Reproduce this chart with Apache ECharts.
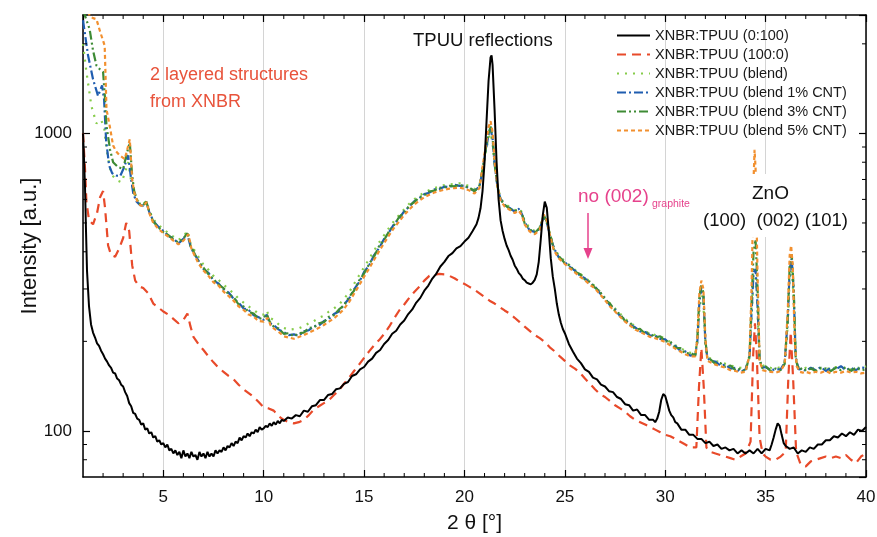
<!DOCTYPE html>
<html lang="en">
<head>
<meta charset="UTF-8">
<title>XRD XNBR:TPUU</title>
<script src="https://cdn.jsdelivr.net/npm/echarts@6/dist/echarts.min.js"></script>
<style>
  html, body { margin: 0; padding: 0; background: #fff; }
  #chart { width: 877px; height: 537px; }
</style>
</head>
<body>
<div id="chart"></div>
<script>
// ---------- data (2 theta [deg], intensity [a.u.]) ----------
var xMin = 1, xMax = 40, yMin = 70, yMax = 2500;

var names = ['XNBR:TPUU (0:100)', 'XNBR:TPUU (100:0)', 'XNBR:TPUU (blend)',
             'XNBR:TPUU (blend 1% CNT)', 'XNBR:TPUU (blend 3% CNT)', 'XNBR:TPUU (blend 5% CNT)'];

var tpuu = [[1.0,1000],[1.05,820],[1.1,660],[1.15,470],[1.2,345],[1.3,262],[1.4,228],[1.5,214],[1.6,206],[1.7,197],
  [1.8,193],[1.9,186],[2.0,181],[2.1,175],[2.2,171],[2.3,166],[2.4,163],[2.5,157],[2.6,156],[2.7,150],[2.8,148],
  [2.9,143],[3.0,141],[3.1,135],[3.2,131],[3.3,124],[3.4,121],[3.5,115],[3.6,114],[3.7,110],[3.8,109],[3.9,105],
  [4.0,106],[4.1,101],[4.2,102],[4.3,98],[4.4,99],[4.5,95],[4.6,96],[4.7,92],[4.8,93],[4.9,90],[5.0,91],[5.1,88],
  [5.2,90],[5.3,86],[5.4,87],[5.5,84],[5.6,86],[5.7,83],[5.8,85],[5.9,81],[6.0,86],[6.1,82],[6.2,84],[6.3,81],
  [6.4,85],[6.5,82],[6.6,83],[6.7,80],[6.8,85],[6.9,82],[7.0,84],[7.1,81],[7.2,85],[7.3,82],[7.4,84],[7.5,82],
  [7.6,86],[7.7,84],[7.8,86],[7.9,85],[8.0,88],[8.1,86],[8.2,89],[8.3,88],[8.4,91],[8.5,89],[8.6,92],[8.7,91],
  [8.8,95],[8.9,93],[9.0,96],[9.1,95],[9.2,98],[9.3,96],[9.4,99],[9.5,98],[9.6,101],[9.7,99],[9.8,103],[9.9,101],
  [10.0,102],[10.1,104],[10.2,103],[10.3,106],[10.4,104],[10.5,107],[10.6,105],[10.7,108],[10.8,106],[10.9,109],
  [11.0,108],[11.2,111],[11.4,110],[11.6,113],[11.8,112],[12.0,117],[12.2,116],[12.4,121],[12.6,122],[12.8,127],
  [13.0,127],[13.2,132],[13.4,133],[13.6,138],[13.8,139],[14.0,144],[14.2,146],[14.4,153],[14.6,155],[14.8,161],
  [15.0,164],[15.2,171],[15.4,175],[15.6,183],[15.8,187],[16.0,196],[16.2,202],[16.4,212],[16.6,217],[16.8,228],
  [17.0,235],[17.2,247],[17.4,256],[17.6,270],[17.8,280],[18.0,296],[18.2,308],[18.4,325],[18.6,338],[18.8,357],
  [19.0,370],[19.2,387],[19.4,396],[19.6,411],[19.8,418],[20.0,433],[20.2,446],[20.4,469],[20.6,495],[20.7,520],
  [20.8,560],[20.9,640],[21.0,800],[21.1,1100],[21.2,1500],[21.3,1800],[21.35,1830],[21.4,1700],[21.5,1200],
  [21.6,800],[21.7,600],[21.8,510],[21.9,470],[22.0,442],[22.1,420],[22.2,405],[22.3,388],[22.4,376],[22.5,360],
  [22.6,351],[22.7,340],[22.8,334],[22.9,325],[23.0,321],[23.1,315],[23.2,313],[23.3,311],[23.4,315],[23.5,322],
  [23.6,336],[23.7,370],[23.8,440],[23.9,530],[24.0,590],[24.1,562],[24.2,470],[24.3,380],[24.4,330],[24.5,300],
  [24.6,268],[24.7,246],[24.8,231],[24.9,220],[25.0,213],[25.2,196],[25.4,185],[25.6,175],[25.8,169],[26.0,161],
  [26.2,158],[26.4,151],[26.6,149],[26.8,143],[27.0,141],[27.2,136],[27.4,135],[27.6,130],[27.8,128],[28.0,123],
  [28.2,122],[28.4,117],[28.6,118],[28.8,113],[29.0,113],[29.2,109],[29.4,109],[29.5,107],[29.6,110],[29.7,116],
  [29.8,127],[29.9,133],[30.0,131],[30.1,124],[30.2,117],[30.3,113],[30.4,111],[30.5,107],[30.6,106],[30.8,101],
  [31.0,101],[31.2,97],[31.4,97],[31.6,94],[31.8,94],[32.0,91],[32.2,92],[32.4,89],[32.6,90],[32.8,87],[33.0,88],
  [33.2,86],[33.4,87],[33.6,84],[33.8,86],[34.0,84],[34.2,86],[34.4,84],[34.6,87],[34.8,84],[35.0,87],[35.2,86],
  [35.3,90],[35.4,95],[35.5,101],[35.6,106],[35.7,104],[35.8,97],[35.9,91],[36.0,89],[36.2,87],[36.4,88],[36.6,84],
  [36.8,86],[37.0,85],[37.2,88],[37.4,87],[37.6,90],[37.8,90],[38.0,93],[38.2,93],[38.4,96],[38.6,95],[38.8,98],
  [39.0,96],[39.2,99],[39.4,97],[39.6,101],[39.8,100],[40.0,103]];

var xnbr = [[1.0,1000],[1.1,760],[1.17,590],[1.3,510],[1.5,495],[1.7,540],[1.85,610],[2.0,640],[2.1,560],[2.25,420],
  [2.4,390],[2.6,385],[2.8,410],[3.0,445],[3.15,500],[3.3,470],[3.45,360],[3.6,320],[3.8,306],[4.0,302],[4.25,290],
  [4.5,268],[4.75,260],[5.0,252],[5.25,246],[5.5,238],[5.75,230],[6.0,236],[6.2,248],[6.35,225],[6.5,207],[6.75,196],
  [7.0,187],[7.25,178],[7.5,170],[7.75,163],[8.0,158],[8.25,153],[8.5,149],[8.75,143],[9.0,138],[9.25,134],[9.5,130],
  [9.75,125],[10.0,120],[10.25,119],[10.5,117],[10.75,112],[11.0,109],[11.25,107],[11.5,106],[11.75,107],[12.0,109],
  [12.25,113],[12.5,118],[12.75,121],[13.0,124],[13.25,127],[13.5,132],[13.75,137],[14.0,144],[14.25,151],[14.5,159],
  [14.75,167],[15.0,176],[15.25,185],[15.5,194],[15.75,202],[16.0,212],[16.25,224],[16.5,239],[16.75,254],[17.0,266],
  [17.25,280],[17.5,293],[17.75,305],[18.0,320],[18.25,332],[18.5,335],[18.75,337],[19.0,336],[19.25,332],[19.5,326],
  [19.75,318],[20.0,312],[20.25,305],[20.5,298],[20.75,290],[21.0,282],[21.25,274],[21.5,268],[21.75,261],[22.0,254],
  [22.25,248],[22.5,240],[22.75,232],[23.0,224],[23.25,217],[23.5,210],[23.75,205],[24.0,199],[24.25,191],[24.5,185],
  [24.75,178],[25.0,172],[25.25,166],[25.5,162],[25.75,157],[26.0,150],[26.25,144],[26.5,138],[26.75,133],[27.0,130],
  [27.25,126],[27.5,122],[27.75,119],[28.0,116],[28.25,112],[28.5,109],[28.75,107],[29.0,105],[29.25,103],[29.5,101],
  [29.75,99],[30.0,97],[30.25,96],[30.5,94],[30.75,92],[31.0,90],[31.25,88],[31.55,88],[31.68,140],[31.8,190],
  [31.92,140],[32.05,88],[32.25,85],[32.5,84],[32.75,83],[33.0,82],[33.25,81],[33.5,80],[33.75,82],[34.0,84],[34.25,92],
  [34.38,180],[34.47,230],[34.56,180],[34.7,95],[34.85,84],[35.0,82],[35.25,80],[35.5,80],[35.75,82],[36.0,85],
  [36.13,150],[36.25,215],[36.37,150],[36.52,85],[36.75,77],[37.0,76],[37.25,79],[37.5,80],[37.75,81],[38.0,82],
  [38.25,81],[38.5,82],[38.75,81],[39.0,83],[39.25,80],[39.5,78],[39.75,82],[40.0,84]];

var blend = [[1.0,2000],[1.17,1610],[1.42,1235],[1.67,1080],[1.9,1110],[2.05,1050],[2.17,885],[2.35,760],[2.5,718],
  [2.7,695],[2.92,685],[3.1,740],[3.25,801],[3.4,690],[3.5,640],[3.65,600],[3.85,585],[4.0,580],[4.15,592],[4.3,552],
  [4.5,515],[4.75,492],[5.0,478],[5.25,462],[5.5,450],[5.75,438],[6.0,450],[6.2,470],[6.35,428],[6.5,410],[6.75,385],
  [7.0,362],[7.25,348],[7.5,332],[7.75,322],[8.0,310],[8.25,300],[8.5,290],[8.75,278],[9.0,270],[9.25,262],[9.5,255],
  [9.75,248],[10.0,246],[10.15,254],[10.3,240],[10.5,236],[10.75,228],[11.0,222],[11.25,219],[11.5,220],[11.75,221],
  [12.0,225],[12.25,230],[12.5,234],[12.75,240],[13.0,244],[13.25,252],[13.5,258],[13.75,266],[14.0,278],[14.25,292],
  [14.5,312],[14.75,333],[15.0,355],[15.25,378],[15.5,404],[15.75,430],[16.0,455],[16.25,482],[16.5,508],[16.75,532],
  [17.0,556],[17.25,580],[17.5,600],[17.75,618],[18.0,632],[18.25,645],[18.5,655],[18.75,662],[19.0,670],[19.25,674],
  [19.5,676],[19.75,680],[20.0,674],[20.25,664],[20.5,650],[20.75,672],[20.9,760],[21.05,860],[21.2,960],[21.3,1000],
  [21.4,930],[21.5,780],[21.65,660],[21.8,606],[22.0,580],[22.25,566],[22.5,552],[22.7,560],[22.85,545],[23.0,508],
  [23.25,480],[23.5,470],[23.75,484],[23.95,520],[24.1,500],[24.25,462],[24.45,415],[24.7,388],[25.0,372],[25.25,360],
  [25.5,348],[25.75,338],[26.0,328],[26.25,318],[26.5,306],[26.75,294],[27.0,280],[27.25,268],[27.5,258],[27.75,248],
  [28.0,238],[28.25,231],[28.5,225],[28.75,220],[29.0,216],[29.25,213],[29.5,210],[29.75,208],[30.0,204],[30.25,199],
  [30.5,194],[30.75,190],[31.0,186],[31.25,183],[31.5,182],[31.6,198],[31.7,255],[31.8,285],[31.9,265],[32.0,196],
  [32.1,178],[32.25,175],[32.5,172],[32.75,170],[33.0,168],[33.25,166],[33.5,164],[33.75,163],[34.0,162],[34.2,176],
  [34.3,240],[34.4,330],[34.5,345],[34.6,250],[34.7,174],[34.85,166],[35.0,165],[35.25,163],[35.5,162],[35.75,164],
  [35.95,170],[36.1,225],[36.2,330],[36.3,360],[36.4,275],[36.5,176],[36.65,163],[36.85,161],[37.0,163],[37.25,161],
  [37.5,164],[37.75,162],[38.0,163],[38.25,161],[38.5,164],[38.75,162],[39.0,163],[39.25,161],[39.5,164],[39.75,162],
  [40.0,165]];

var cnt1 = [[1.0,2400],[1.25,1830],[1.5,1520],[1.75,1335],[1.95,1450],[2.05,1300],[2.15,950],[2.3,780],[2.45,735],
  [2.65,722],[2.85,718],[3.05,770],[3.25,843],[3.4,700],[3.5,630],[3.65,592],[3.85,574],[4.0,572],[4.15,588],[4.3,545],
  [4.5,508],[4.75,486],[5.0,470],[5.25,452],[5.5,444],[5.75,426],[6.0,442],[6.2,458],[6.35,418],[6.5,398],[6.75,374],
  [7.0,350],[7.25,340],[7.5,320],[7.75,313],[8.0,298],[8.25,292],[8.5,278],[8.75,270],[9.0,258],[9.25,255],[9.5,245],
  [9.75,241],[10.0,236],[10.15,246],[10.3,230],[10.5,227],[10.75,219],[11.0,215],[11.25,210],[11.5,211],[11.75,209],
  [12.0,216],[12.25,218],[12.5,225],[12.75,226],[13.0,234],[13.25,238],[13.5,247],[13.75,252],[14.0,266],[14.25,278],
  [14.5,299],[14.75,316],[15.0,342],[15.25,360],[15.5,390],[15.75,412],[16.0,442],[16.25,466],[16.5,497],[16.75,518],
  [17.0,548],[17.25,566],[17.5,592],[17.75,604],[18.0,625],[18.25,632],[18.5,648],[18.75,650],[19.0,662],[19.25,660],
  [19.5,672],[19.75,666],[20.0,668],[20.25,652],[20.5,642],[20.75,662],[20.9,750],[21.05,870],[21.2,990],[21.3,1040],
  [21.4,960],[21.5,790],[21.65,655],[21.8,602],[22.0,574],[22.25,562],[22.5,546],[22.7,558],[22.85,538],[23.0,502],
  [23.25,472],[23.5,466],[23.75,478],[23.95,526],[24.1,502],[24.25,458],[24.45,412],[24.7,383],[25.0,369],[25.25,356],
  [25.5,346],[25.75,333],[26.0,326],[26.25,313],[26.5,306],[26.75,290],[27.0,279],[27.25,264],[27.5,256],[27.75,243],
  [28.0,237],[28.25,227],[28.5,223],[28.75,216],[29.0,215],[29.25,209],[29.5,209],[29.75,204],[30.0,203],[30.25,196],
  [30.5,193],[30.75,186],[31.0,185],[31.25,179],[31.5,181],[31.6,200],[31.7,270],[31.8,305],[31.9,285],[32.0,198],
  [32.1,176],[32.25,172],[32.5,171],[32.75,166],[33.0,167],[33.25,162],[33.5,163],[33.75,158],[34.0,161],[34.2,178],
  [34.3,250],[34.4,340],[34.5,350],[34.6,260],[34.7,172],[34.85,163],[35.0,164],[35.25,160],[35.5,161],[35.75,161],
  [35.95,170],[36.1,235],[36.2,350],[36.3,380],[36.4,290],[36.5,176],[36.65,161],[36.85,162],[37.0,159],[37.25,163],
  [37.5,160],[37.75,164],[38.0,159],[38.25,163],[38.5,161],[38.75,165],[39.0,160],[39.25,163],[39.5,160],[39.75,164],
  [40.0,162]];

var cnt3 = [[1.0,2600],[1.33,2240],[1.5,1900],[1.67,1690],[1.85,1640],[2.0,1610],[2.1,1300],[2.17,1060],[2.35,880],
  [2.5,800],[2.75,770],[3.0,760],[3.15,840],[3.33,932],[3.45,720],[3.55,640],[3.7,596],[3.85,578],[4.0,574],[4.15,590],
  [4.3,548],[4.5,505],[4.75,484],[5.0,466],[5.25,455],[5.5,440],[5.75,430],[6.0,444],[6.2,462],[6.35,420],[6.5,402],
  [6.75,370],[7.0,354],[7.25,336],[7.5,324],[7.75,310],[8.0,302],[8.25,288],[8.5,282],[8.75,266],[9.0,262],[9.25,251],
  [9.5,248],[9.75,238],[10.0,240],[10.15,247],[10.3,233],[10.5,224],[10.75,221],[11.0,212],[11.25,213],[11.5,208],
  [11.75,213],[12.0,214],[12.25,222],[12.5,223],[12.75,230],[13.0,232],[13.25,242],[13.5,245],[13.75,256],[14.0,264],
  [14.25,282],[14.5,296],[14.75,320],[15.0,338],[15.25,364],[15.5,386],[15.75,418],[16.0,438],[16.25,470],[16.5,492],
  [16.75,524],[17.0,542],[17.25,572],[17.5,588],[17.75,610],[18.0,620],[18.25,638],[18.5,642],[18.75,656],[19.0,658],
  [19.25,666],[19.5,664],[19.75,672],[20.0,662],[20.25,658],[20.5,638],[20.75,668],[20.9,758],[21.05,875],[21.2,1000],
  [21.3,1055],[21.4,970],[21.5,795],[21.65,660],[21.8,598],[22.0,576],[22.25,558],[22.5,550],[22.7,552],[22.85,542],
  [23.0,498],[23.25,476],[23.5,463],[23.75,482],[23.95,532],[24.1,506],[24.25,462],[24.45,408],[24.7,387],[25.0,366],
  [25.25,360],[25.5,343],[25.75,337],[26.0,323],[26.25,317],[26.5,303],[26.75,294],[27.0,276],[27.25,268],[27.5,253],
  [27.75,247],[28.0,234],[28.25,231],[28.5,220],[28.75,220],[29.0,212],[29.25,213],[29.5,206],[29.75,208],[30.0,200],
  [30.25,200],[30.5,190],[30.75,190],[31.0,182],[31.25,183],[31.5,179],[31.6,205],[31.7,280],[31.8,312],[31.9,290],
  [32.0,202],[32.1,175],[32.25,174],[32.5,168],[32.75,169],[33.0,164],[33.25,166],[33.5,160],[33.75,162],[34.0,158],
  [34.2,180],[34.3,270],[34.4,400],[34.5,440],[34.6,300],[34.7,174],[34.85,162],[35.0,165],[35.25,159],[35.5,162],
  [35.75,160],[35.95,168],[36.1,238],[36.2,360],[36.3,392],[36.4,300],[36.5,174],[36.65,160],[36.85,163],[37.0,160],
  [37.25,162],[37.5,159],[37.75,163],[38.0,162],[38.25,159],[38.5,163],[38.75,160],[39.0,164],[39.25,159],[39.5,163],
  [39.75,160],[40.0,161]];

var cnt5 = [[1.0,3000],[1.33,2480],[1.5,2440],[1.67,2420],[1.85,2200],[2.0,2050],[2.08,1970],[2.17,1206],[2.33,1060],
  [2.5,910],[2.65,870],[2.83,843],[3.08,820],[3.2,880],[3.33,955],[3.45,700],[3.55,634],[3.7,592],[3.85,574],[4.0,568],
  [4.17,588],[4.3,540],[4.5,500],[4.75,478],[5.0,462],[5.25,450],[5.5,436],[5.75,424],[6.0,436],[6.25,458],[6.4,410],
  [6.5,396],[6.75,366],[7.0,346],[7.25,332],[7.5,316],[7.75,308],[8.0,294],[8.25,284],[8.5,274],[8.75,262],[9.0,255],
  [9.25,246],[9.5,242],[9.75,234],[10.0,233],[10.2,240],[10.35,226],[10.5,221],[10.75,215],[11.0,208],[11.25,206],
  [11.5,204],[11.75,207],[12.0,210],[12.25,214],[12.5,218],[12.75,222],[13.0,227],[13.25,233],[13.5,239],[13.75,247],
  [14.0,257],[14.25,271],[14.5,289],[14.75,308],[15.0,330],[15.25,351],[15.5,376],[15.75,402],[16.0,428],[16.25,455],
  [16.5,482],[16.75,506],[17.0,532],[17.25,555],[17.5,577],[17.75,594],[18.0,610],[18.25,622],[18.5,633],[18.75,640],
  [19.0,647],[19.25,652],[19.5,655],[19.75,657],[20.0,652],[20.25,643],[20.5,628],[20.75,655],[20.9,770],[21.05,900],
  [21.2,1050],[21.3,1100],[21.4,1010],[21.5,810],[21.65,660],[21.8,596],[22.0,568],[22.25,554],[22.5,540],[22.7,550],
  [22.85,532],[23.0,494],[23.25,468],[23.5,458],[23.75,474],[23.95,534],[24.1,510],[24.25,456],[24.45,405],[24.7,380],
  [25.0,364],[25.25,352],[25.5,341],[25.75,330],[26.0,321],[26.25,310],[26.5,301],[26.75,288],[27.0,275],[27.25,262],
  [27.5,252],[27.75,242],[28.0,233],[28.25,226],[28.5,219],[28.75,215],[29.0,211],[29.25,207],[29.5,205],[29.75,202],
  [30.0,199],[30.25,194],[30.5,189],[30.75,185],[31.0,181],[31.25,178],[31.5,178],[31.6,205],[31.7,290],[31.8,320],
  [31.9,300],[32.0,205],[32.1,172],[32.25,170],[32.5,167],[32.75,165],[33.0,163],[33.25,160],[33.5,159],[33.75,157],
  [34.0,158],[34.2,180],[34.3,300],[34.4,700],[34.45,880],[34.5,760],[34.6,330],[34.7,172],[34.85,160],[35.0,159],
  [35.25,158],[35.5,157],[35.75,159],[35.95,168],[36.1,250],[36.2,390],[36.27,420],[36.35,360],[36.45,200],[36.55,165],
  [36.7,158],[36.85,157],[37.0,158],[37.25,156],[37.5,158],[37.75,157],[38.0,159],[38.25,156],[38.5,158],[38.75,157],
  [39.0,159],[39.25,157],[39.5,158],[39.75,156],[40.0,157]];

// minor tick positions (majors are drawn by the axes)
var xMinorTicks = [2,3,4,6,7,8,9,11,12,13,14,16,17,18,19,21,22,23,24,26,27,28,29,31,32,33,34,36,37,38,39];
var yMinorTicks = [80,90,200,300,400,500,600,700,800,900,2000];

var colors = ['#000000', '#e84a2a', '#86cc4a', '#1f5db0', '#3e8b35', '#f2902f'];
var dashes = ['solid', [9, 6], [2, 6], [9, 3, 2, 3], [9, 3, 2, 3, 2, 3], [4, 3]];
var seriesData = [tpuu, xnbr, blend, cnt1, cnt3, cnt5];
var zOrder = [10, 2, 3, 4, 5, 6];

var chart = echarts.init(document.getElementById('chart'));
var font = 'Liberation Sans, Arial, sans-serif';

var series = seriesData.map(function (d, i) {
    return {
        name: names[i],
        type: 'line',
        data: d,
        symbol: 'none',
        z: zOrder[i],
        xAxisIndex: 0,
        yAxisIndex: 0,
        lineStyle: { color: colors[i], width: i === 0 ? 2 : 2.2, type: dashes[i] },
        itemStyle: { color: colors[i] },
        animation: false
    };
});

// minor ticks on all four sides
series.push({
    type: 'custom',
    xAxisIndex: 0, yAxisIndex: 0,
    data: xMinorTicks.map(function (v) { return [v, 'x']; }),
    silent: true, z: 20, animation: false,
    renderItem: function (params, api) {
        var v = api.value(0);
        var b = api.coord([v, yMin]), t = api.coord([v, yMax]);
        var st = { stroke: '#000', lineWidth: 1 };
        return { type: 'group', children: [
            { type: 'line', shape: { x1: b[0], y1: b[1], x2: b[0], y2: b[1] - 4 }, style: st },
            { type: 'line', shape: { x1: t[0], y1: t[1], x2: t[0], y2: t[1] + 4 }, style: st }
        ]};
    }
});
series.push({
    type: 'custom',
    xAxisIndex: 0, yAxisIndex: 0,
    data: yMinorTicks.map(function (v) { return [xMin, v]; }),
    silent: true, z: 20, animation: false,
    renderItem: function (params, api) {
        var v = api.value(1);
        var l = api.coord([xMin, v]), r = api.coord([xMax, v]);
        var st = { stroke: '#000', lineWidth: 1 };
        return { type: 'group', children: [
            { type: 'line', shape: { x1: l[0], y1: l[1], x2: l[0] + 4, y2: l[1] }, style: st },
            { type: 'line', shape: { x1: r[0], y1: r[1], x2: r[0] - 4, y2: r[1] }, style: st }
        ]};
    }
});

var axisLine = { show: true, onZero: false, lineStyle: { color: '#000', width: 1.5 } };
var majorTick = { show: true, inside: true, length: 7, lineStyle: { color: '#000', width: 1.2 } };

var option = {
    animation: false,
    backgroundColor: '#fff',
    textStyle: { fontFamily: font },
    grid: { left: 83, right: 11, top: 15, bottom: 60, containLabel: false, outerBoundsMode: 'none' },
    legend: {
        data: names,
        orient: 'vertical',
        left: 611, top: 23, padding: 5,
        itemWidth: 33, itemHeight: 10, itemGap: 4,
        itemStyle: { color: 'rgba(0,0,0,0)', borderWidth: 0 },
        textStyle: { fontSize: 14.5, color: '#1a1a1a', fontFamily: font, lineHeight: 14 },
        selectedMode: false
    },
    xAxis: [{
        type: 'value', min: xMin, max: xMax, minInterval: 5, maxInterval: 5,
        position: 'bottom',
        name: '2 θ [°]', nameLocation: 'middle', nameGap: 36, nameMoveOverlap: false,
        nameTextStyle: { fontSize: 21, color: '#111', fontFamily: font },
        axisLine: axisLine,
        axisTick: majorTick,
        axisLabel: { fontSize: 17, color: '#111', margin: 12, showMinLabel: false, fontFamily: font },
        splitLine: { show: true, lineStyle: { color: '#d4d4d4', width: 1 } }
    }, {
        type: 'value', min: xMin, max: xMax, minInterval: 5, maxInterval: 5,
        position: 'top',
        axisLine: axisLine,
        axisTick: majorTick,
        axisLabel: { show: false },
        splitLine: { show: false }
    }],
    yAxis: [{
        type: 'log', min: yMin, max: yMax, logBase: 10,
        position: 'left',
        name: 'Intensity [a.u.]', nameLocation: 'middle', nameGap: 42, nameMoveOverlap: false,
        nameTextStyle: { fontSize: 22, color: '#111', fontFamily: font },
        axisLine: axisLine,
        axisTick: majorTick,
        axisLabel: {
            fontSize: 17, color: '#111', margin: 11, showMinLabel: false, showMaxLabel: false,
            fontFamily: font,
            formatter: function (v) { return String(Math.round(v)); }
        },
        splitLine: { show: false }
    }, {
        type: 'log', min: yMin, max: yMax, logBase: 10,
        position: 'right',
        axisLine: axisLine,
        axisTick: majorTick,
        axisLabel: { show: false },
        splitLine: { show: false }
    }],
    graphic: [
        { type: 'text', left: 150, top: 66, z: 100,
          style: { text: '2 layered structures', fill: '#e8533b', font: '18px ' + font } },
        { type: 'text', left: 150, top: 93, z: 100,
          style: { text: 'from XNBR', fill: '#e8533b', font: '18px ' + font } },
        { type: 'text', left: 413, top: 31, z: 100,
          style: { text: 'TPUU reflections', fill: '#111', font: '18.5px ' + font } },
        { type: 'text', left: 578, top: 187, z: 100,
          style: { text: 'no (002)', fill: '#e6428c', font: '19px ' + font } },
        { type: 'text', left: 652, top: 199, z: 100,
          style: { text: 'graphite', fill: '#e6428c', font: '10.5px ' + font } },
        { type: 'line', z: 100, shape: { x1: 588, y1: 213, x2: 588, y2: 250 },
          style: { stroke: '#e6428c', lineWidth: 1.5 } },
        { type: 'polygon', z: 100, shape: { points: [[583.5, 248], [592.5, 248], [588, 259]] },
          style: { fill: '#e6428c' } },
        { type: 'rect', z: 90, shape: { x: 745, y: 174, width: 50, height: 63 },
          style: { fill: '#fff' } },
        { type: 'text', left: 752, top: 184, z: 100,
          style: { text: 'ZnO', fill: '#111', font: '19px ' + font } },
        { type: 'text', left: 703, top: 211, z: 100,
          style: { text: '(100)  (002) (101)', fill: '#111', font: '18.5px ' + font } }
    ],
    series: series
};

chart.setOption(option);
</script>
</body>
</html>
